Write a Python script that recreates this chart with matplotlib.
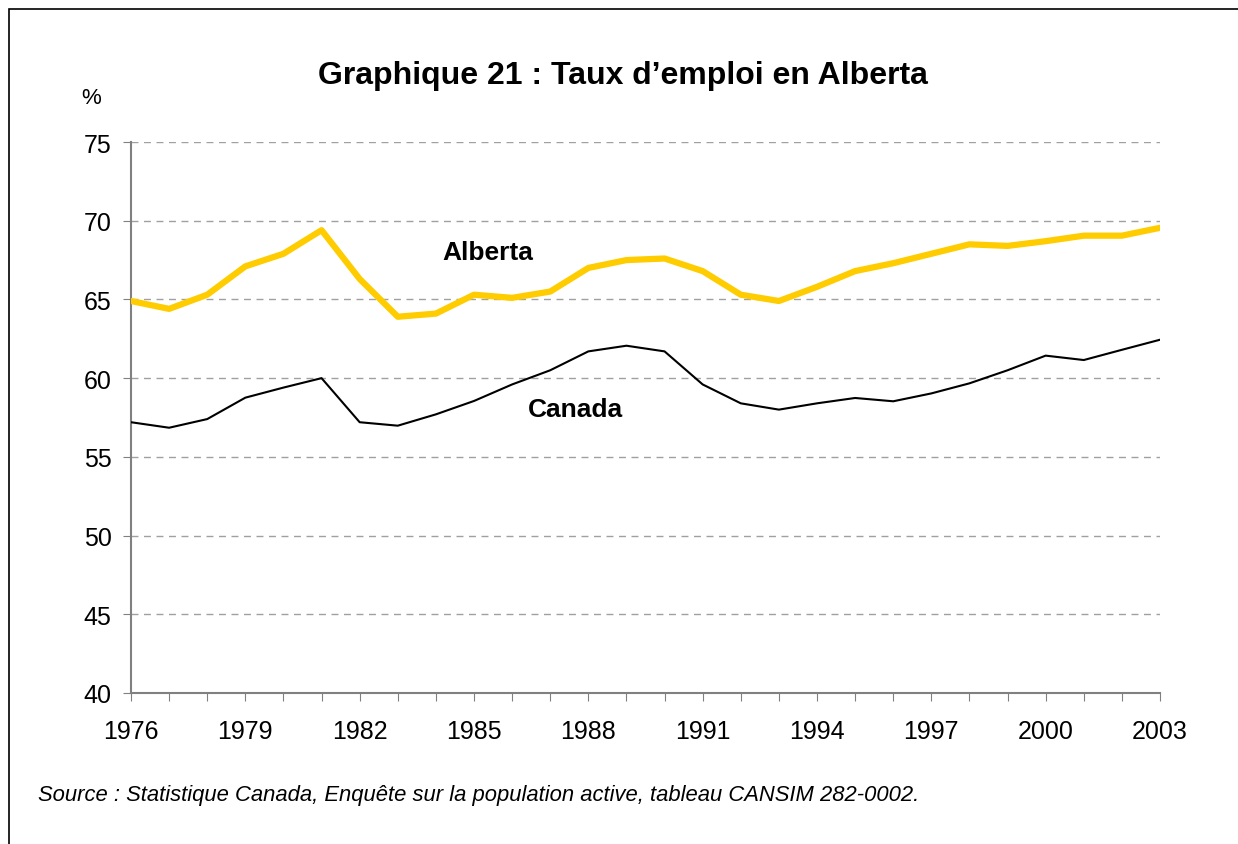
import matplotlib
matplotlib.use("Agg")
import matplotlib.pyplot as plt
from matplotlib.patches import Rectangle

plt.rcParams['font.family'] = ['Liberation Sans', 'DejaVu Sans']

years = list(range(1976, 2004))
alberta = [64.9, 64.4, 65.3, 67.1, 67.9, 69.4, 66.3, 63.9, 64.1, 65.3, 65.1, 65.5,
           67.0, 67.5, 67.6, 66.8, 65.3, 64.9, 65.8, 66.8, 67.3, 67.9, 68.5, 68.4,
           68.7, 69.05, 69.05, 69.55]
canada = [57.2, 56.85, 57.4, 58.76, 59.4, 60.0, 57.2, 56.98, 57.7, 58.55, 59.6, 60.5,
          61.7, 62.06, 61.7, 59.6, 58.4, 58.0, 58.4, 58.74, 58.53, 59.03, 59.67, 60.5,
          61.43, 61.15, 61.8, 62.44]
xtick_labels = [str(y) for y in range(1976, 2004, 3)]
yticks = [40, 45, 50, 55, 60, 65, 70, 75]

fig = plt.figure(figsize=(12.38, 8.45), dpi=100)
ax = fig.add_axes([131/1238, 1-694/845, (1160-131)/1238, (694-143)/845])

ax.plot(years, alberta, color='#FFCC00', lw=4.5, solid_capstyle='round', solid_joinstyle='round', zorder=3)
ax.plot(years, canada, color='black', lw=1.5, zorder=3)

ax.set_xlim(1976, 2003)
ax.set_ylim(40, 75)
ax.set_yticks(yticks)
ax.set_yticklabels([str(v) for v in yticks], fontsize=18)
ax.set_xticks(years)
ax.set_xticklabels([str(y) if (y - 1976) % 3 == 0 else '' for y in years], fontsize=18)
ax.tick_params(axis='x', direction='out', length=6, color='#808080', pad=13)
ax.tick_params(axis='y', direction='out', length=6, color='#808080', pad=8)

for v in yticks[1:]:
    ax.axhline(v, color='#A0A0A0', lw=1, ls=(0, (5, 4)), zorder=1)

for s in ['top', 'right']:
    ax.spines[s].set_visible(False)
for s in ['left', 'bottom']:
    ax.spines[s].set_color('#808080')
    ax.spines[s].set_linewidth(1.5)

ax.text(1984.16, 68.0, 'Alberta', fontsize=19, fontweight='bold', ha='left', va='center')
ax.text(1986.42, 58.04, 'Canada', fontsize=19, fontweight='bold', ha='left', va='center')

fig.text(623/1238, 1-76/845, 'Graphique 21 : Taux d\u2019emploi en Alberta', fontsize=23,
         fontweight='bold', ha='center', va='center')
fig.text(91/1238, 1-98/845, '%', fontsize=16, ha='center', va='center')
fig.text(38/1238, 1-796/845,
         'Source : Statistique Canada, Enquête sur la population active, tableau CANSIM 282-0002.',
         fontsize=15.8, style='italic', ha='left', va='center')

fig.patches.append(Rectangle((9/1238, -0.1), 1.2, 1 - 10/845 + 0.1, transform=fig.transFigure,
                             fill=False, edgecolor='black', lw=1.2))

fig.savefig('out.png', dpi=100)
